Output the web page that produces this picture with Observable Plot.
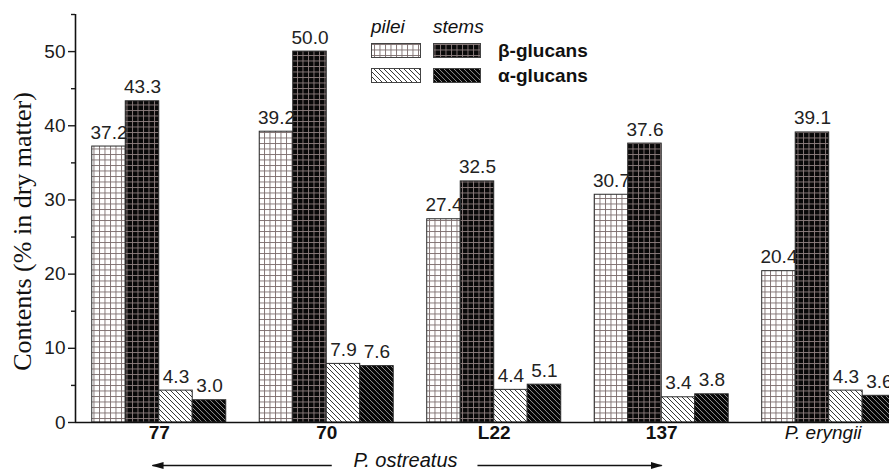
<!DOCTYPE html>
<html><head><meta charset="utf-8">
<script src="https://cdn.jsdelivr.net/npm/d3@7"></script>
<script src="https://cdn.jsdelivr.net/npm/@observablehq/plot@0.6"></script>
<style>
body{margin:0;background:#fff;}
#wrap{position:relative;width:889px;height:475px;overflow:hidden;background:#fff;}
#legend{position:absolute;left:0;top:0;pointer-events:none;}
</style></head><body><div id="wrap"></div>
<script>
// ---- data ----
const groups = ["77", "70", "L22", "137", "P. eryngii"];
const seriesNames = ["pilei β-glucans", "stems β-glucans", "pilei α-glucans", "stems α-glucans"];
const pileiBeta  = [37.2, 39.2, 27.4, 30.7, 20.4];
const stemsBeta  = [43.3, 50.0, 32.5, 37.6, 39.1];
const pileiAlpha = [4.3, 7.9, 4.4, 3.4, 4.3];
const stemsAlpha = [3.0, 7.6, 5.1, 3.8, 3.6];
const yTicks = [0, 10, 20, 30, 40, 50];
const yMinorTicks = [5, 15, 25, 35, 45, 55];
const yLabel = "Contents (% in dry matter)";
const speciesLabel = "P. ostreatus";
const italicGroups = ["P. eryngii"];
const legendCols = ["pilei", "stems"];
const legendRows = ["β-glucans", "α-glucans"];

// ---- layout / style ----
const seriesValues = [pileiBeta, stemsBeta, pileiAlpha, stemsAlpha];
const seriesFills = ["url(#gridWhite)", "url(#gridBlack)", "url(#hatchWhite)", "url(#hatchBlack)"];
const BAR = 0.2;               // bar width in group units (group = 0.8)
const xDomain = [-0.5, 4.36];
const yDomain = [0, 55];
const arrows = [{from: 1.03, to: -0.04}, {from: 1.9, to: 3.0}];

const bars = groups.flatMap((g, gi) => seriesValues.map((vals, si) => ({
  group: g, gi, si, series: seriesNames[si], value: vals[gi],
  x1: gi - 2 * BAR + si * BAR, x2: gi - 2 * BAR + (si + 1) * BAR
})));
const groupIdx = groups.map((g, i) => ({g, i}));

const font = "'Liberation Sans', Arial, sans-serif";
const svg = Plot.plot({
  width: 889, height: 475,
  marginLeft: 75, marginRight: 0, marginTop: 14, marginBottom: 53,
  x: {domain: xDomain, axis: null},
  y: {domain: yDomain, axis: null, label: null},
  style: {fontFamily: font, background: "white", overflow: "visible", color: "#1a1a1a"},
  marks: [
    ...seriesFills.map((f, si) => Plot.rectY(bars.filter(d => d.si === si), {
      x1: "x1", x2: "x2", y1: 0, y2: "value", fill: f, stroke: "#2b2b2b", strokeWidth: 1
    })),
    Plot.text(bars, {
      x: d => (d.x1 + d.x2) / 2, y: "value", text: d => d.value.toFixed(1),
      lineAnchor: "bottom", dy: -8, fontSize: 19, fill: "#222"
    }),
    Plot.ruleY([0], {stroke: "#111", strokeWidth: 1.6}),
    Plot.ruleX([xDomain[0]], {y1: yDomain[0], y2: yDomain[1], stroke: "#111", strokeWidth: 1.6}),
    Plot.axisY({ticks: yTicks, tickSize: 7, tickPadding: 3, fontSize: 19, label: null, color: "#1a1a1a", strokeWidth: 1.4}),
    Plot.axisY({ticks: yMinorTicks, tickSize: 4, tickFormat: () => "", label: null, color: "#1a1a1a", strokeWidth: 1.4}),
    Plot.text(groupIdx.filter(d => !italicGroups.includes(d.g)), {
      x: "i", text: "g", frameAnchor: "bottom", dy: 16, fontSize: 19, fontWeight: "bold", fill: "#111"
    }),
    Plot.text(groupIdx.filter(d => italicGroups.includes(d.g)), {
      x: "i", text: "g", frameAnchor: "bottom", dy: 16, dx: -6, fontSize: 19, fontStyle: "italic", fill: "#111"
    }),
    Plot.text([speciesLabel], {
      x: 1.47, frameAnchor: "bottom", dy: 44, fontSize: 20, fontStyle: "italic", fill: "#111"
    }),
    Plot.link(arrows, {x1: "from", x2: "to", y1: 0, y2: 0, dy: 43, stroke: "#111", strokeWidth: 1.4}),
    Plot.text([yLabel], {
      frameAnchor: "left", textAnchor: "middle", rotate: -90, dx: -53, dy: 13, fontSize: 26,
      fontFamily: "'Liberation Serif', 'Times New Roman', serif", fill: "#111"
    })
  ]
});

// ---- patterns & arrowhead ----
const defs = d3.select(svg).insert("defs", ":first-child");
function gridPattern(id, bg, line, sw, s) {
  const p = defs.append("pattern").attr("id", id).attr("patternUnits", "userSpaceOnUse").attr("width", s).attr("height", s);
  p.append("rect").attr("width", s).attr("height", s).attr("fill", bg);
  p.append("path").attr("d", `M0,0.5H${s}M0.5,0V${s}`).attr("stroke", line).attr("stroke-width", sw).attr("fill", "none");
}
function hatchPattern(id, bg, line, sw, s) {
  const p = defs.append("pattern").attr("id", id).attr("patternUnits", "userSpaceOnUse").attr("width", s).attr("height", s);
  p.append("rect").attr("width", s).attr("height", s).attr("fill", bg);
  p.append("path").attr("d", `M-1,-1L${s+1},${s+1}M-1,${s-1}L1,${s+1}M${s-1},-1L${s+1},1`).attr("stroke", line).attr("stroke-width", sw).attr("fill", "none");
}
gridPattern("gridWhite", "#fff", "#7a6b6b", 0.9, 5.5);
gridPattern("gridBlack", "#080808", "#8e7f7f", 0.9, 5.5);
hatchPattern("hatchWhite", "#fff", "#3a3a3a", 1, 5);
hatchPattern("hatchBlack", "#080808", "#9a9a9a", 0.9, 5);
defs.append("marker").attr("id", "ah").attr("viewBox", "0 0 12 7").attr("refX", 11).attr("refY", 3.5)
  .attr("markerWidth", 12).attr("markerHeight", 7).attr("markerUnits", "userSpaceOnUse").attr("orient", "auto")
  .append("path").attr("d", "M0,0L12,3.5L0,7z").attr("fill", "#111");
d3.select(svg).selectAll("g[aria-label=link] path").attr("marker-end", "url(#ah)");

const wrap = document.getElementById("wrap");
wrap.appendChild(svg);

// ---- legend ----
const lg = d3.select(wrap).append("svg").attr("id", "legend").attr("width", 889).attr("height", 100)
  .style("font-family", font);
const colX = [371, 433];
const rowY = [43, 68];
legendCols.forEach((c, i) => lg.append("text").attr("x", colX[i]).attr("y", 33).attr("font-size", 19)
  .attr("font-style", "italic").attr("fill", "#111").text(c));
legendRows.forEach((r, ri) => {
  legendCols.forEach((c, ci) => lg.append("rect").attr("x", colX[ci] + 0.5).attr("y", rowY[ri] + 0.5)
    .attr("width", ci === 0 ? 49 : 47).attr("height", 14).attr("fill", seriesFills[ri * 2 + ci])
    .attr("stroke", "#444").attr("stroke-width", 1));
  lg.append("text").attr("x", 498).attr("y", rowY[ri] + 14).attr("font-size", 19).attr("font-weight", "bold")
    .attr("fill", "#111").text(r);
});
</script></body></html>
